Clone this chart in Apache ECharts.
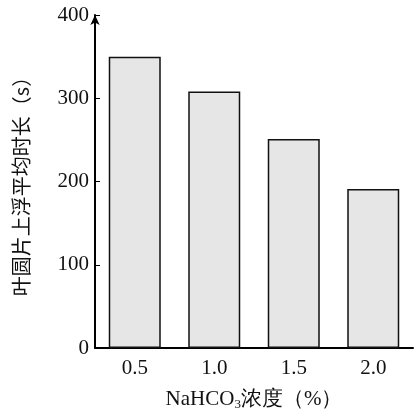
<!DOCTYPE html>
<html><head><meta charset="utf-8">
<script src="https://cdn.jsdelivr.net/npm/echarts@6/dist/echarts.min.js"></script>
<style>html,body{margin:0;padding:0;background:#fff}#c{width:419px;height:416px}</style>
</head><body><div id="c"></div>
<script>
const categories = ['0.5','1.0','1.5','2.0'];
const values = [350, 308, 251, 191];
const yTicks = [0,100,200,300,400];
const chart = echarts.init(document.getElementById('c'));
const font = '"Liberation Serif","DejaVu Serif",serif';
chart.setOption({
  animation:false,
  grid:{left:95,right:6,top:15,bottom:66},
  xAxis:{type:'category',data:categories,
    axisLine:{lineStyle:{color:'#000',width:2}},axisTick:{show:false},
    axisLabel:{color:'#111',fontSize:21,fontFamily:font,margin:10},
    name:'{a|NaHCO}{s|3}{a|浓度（%）}',nameLocation:'middle',nameGap:40,
    nameTextStyle:{rich:{a:{fontSize:21,fontFamily:font,color:'#111'},s:{fontSize:13,fontFamily:font,color:'#111',verticalAlign:'bottom',padding:[10,0,0,0]}}}},
  yAxis:{type:'value',min:0,max:400,interval:100,
    axisLine:{show:true,lineStyle:{color:'#000',width:2},symbol:['none','arrow'],symbolSize:[7,10]},
    axisTick:{show:true,inside:true,length:5,lineStyle:{color:'#000'}},
    splitLine:{show:false},
    axisLabel:{color:'#111',fontSize:21,fontFamily:font,margin:6,formatter:v=>yTicks.includes(v)?String(v):''},
    name:'叶圆片上浮平均时长（s）',nameLocation:'middle',nameGap:64,nameRotate:90,
    nameTextStyle:{fontSize:20,fontFamily:'"Noto Sans CJK SC",serif',color:'#111'}},
  series:[{type:'bar',data:values,barWidth:52,
    itemStyle:{color:'#e6e6e6',borderColor:'#111',borderWidth:1.5}}]
});
</script></body></html>
